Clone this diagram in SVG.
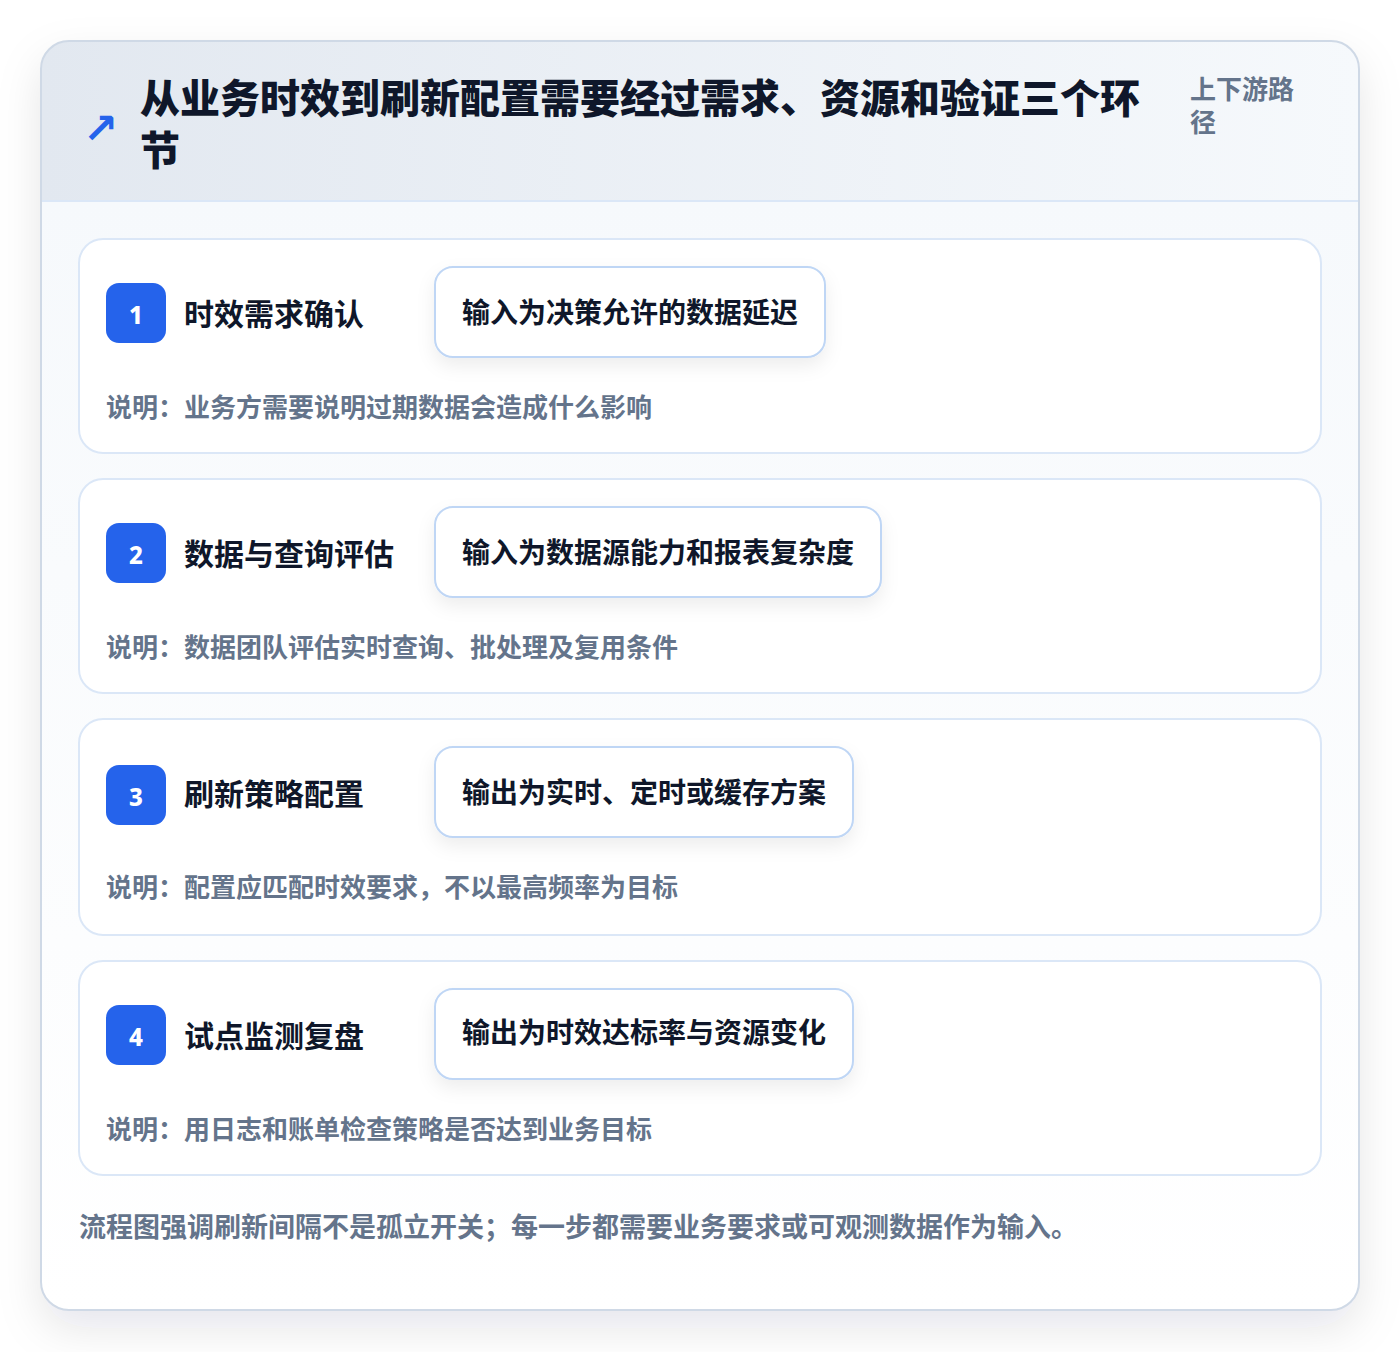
<svg xmlns="http://www.w3.org/2000/svg" width="1400" height="1352" viewBox="0 0 1400 1352">
<style>
.t{font-family:"Noto Sans CJK SC","Noto Sans",sans-serif;}
.title{font-size:40px;font-weight:900;fill:#0f172a;}
.tag{font-size:26px;font-weight:700;fill:#64748b;}
.card{fill:#ffffff;stroke:#dbe7f7;stroke-width:2;}
.badge{fill:#2563eb;}
.num{font-size:24px;font-weight:800;fill:#ffffff;text-anchor:middle;font-family:"Noto Sans","DejaVu Sans",sans-serif;}
.stitle{font-size:30px;font-weight:700;fill:#0f172a;}
.pill{fill:#ffffff;stroke:#bfd6f5;stroke-width:2;}
.ptext{font-size:28px;font-weight:700;fill:#0f172a;}
.desc{font-size:26px;font-weight:700;fill:#64748b;}
.foot{font-size:27px;font-weight:700;fill:#64748b;}
</style>
<defs>
<linearGradient id="hdr" x1="0" y1="0" x2="1" y2="0">
<stop offset="0" stop-color="#e2e8f0"/>
<stop offset="1" stop-color="#f6f9fc"/>
</linearGradient>
<linearGradient id="body" x1="0" y1="0" x2="0" y2="1">
<stop offset="0" stop-color="#f6f9fc"/>
<stop offset="1" stop-color="#ffffff"/>
</linearGradient>
<clipPath id="outerClip"><rect x="41" y="41" width="1318" height="1269" rx="28"/></clipPath>
<filter id="shadowOuter" x="-10%" y="-10%" width="120%" height="120%">
<feDropShadow dx="0" dy="18" stdDeviation="22" flood-color="#0f172a" flood-opacity="0.10"/>
</filter>
<filter id="shadowPill" x="-20%" y="-40%" width="140%" height="200%">
<feDropShadow dx="0" dy="8" stdDeviation="9" flood-color="#0f172a" flood-opacity="0.07"/>
</filter>
</defs>
<rect width="1400" height="1352" fill="#ffffff"/>
<g id="panel">
<rect x="41" y="41" width="1318" height="1269" rx="28" fill="#ffffff" filter="url(#shadowOuter)"/>
<g clip-path="url(#outerClip)">
<rect x="41" y="201" width="1318" height="1109" fill="url(#body)"/>
<rect x="41" y="41" width="1318" height="160" fill="url(#hdr)"/>
<line x1="41" y1="201" x2="1359" y2="201" stroke="#dbe7f7" stroke-width="2"/>
</g>
<rect x="41" y="41" width="1318" height="1269" rx="28" fill="none" stroke="#cfd9e6" stroke-width="2"/>
</g>
<g id="header">
<text x="83" y="143" font-family="DejaVu Sans,sans-serif" font-weight="700" font-size="42" fill="#2563eb">↗</text>
<text class="t title" x="140" y="113">从业务时效到刷新配置需要经过需求、资源和验证三个环</text>
<text class="t title" x="140" y="165">节</text>
<text class="t tag" x="1190" y="99">上下游路</text>
<text class="t tag" x="1190" y="132">径</text>
</g>
<g id="connectors"></g>
<g id="step1">
<rect class="card" x="79" y="239" width="1242" height="214" rx="24"/>
<rect class="badge" x="106" y="283" width="60" height="60" rx="13"/>
<text class="num" x="136" y="324">1</text>
<text class="t stitle" x="184" y="325">时效需求确认</text>
<rect class="pill" x="435" y="267" width="390" height="90" rx="18" filter="url(#shadowPill)"/>
<text class="t ptext" x="462" y="323">输入为决策允许的数据延迟</text>
<text class="t desc" x="106" y="417">说明：业务方需要说明过期数据会造成什么影响</text>
</g>
<g id="step2">
<rect class="card" x="79" y="479" width="1242" height="214" rx="24"/>
<rect class="badge" x="106" y="523" width="60" height="60" rx="13"/>
<text class="num" x="136" y="564">2</text>
<text class="t stitle" x="184" y="565">数据与查询评估</text>
<rect class="pill" x="435" y="507" width="446" height="90" rx="18" filter="url(#shadowPill)"/>
<text class="t ptext" x="462" y="563">输入为数据源能力和报表复杂度</text>
<text class="t desc" x="106" y="657">说明：数据团队评估实时查询、批处理及复用条件</text>
</g>
<g id="step3">
<rect class="card" x="79" y="719" width="1242" height="216" rx="24"/>
<rect class="badge" x="106" y="765" width="60" height="60" rx="13"/>
<text class="num" x="136" y="806">3</text>
<text class="t stitle" x="184" y="805">刷新策略配置</text>
<rect class="pill" x="435" y="747" width="418" height="90" rx="18" filter="url(#shadowPill)"/>
<text class="t ptext" x="462" y="803">输出为实时、定时或缓存方案</text>
<text class="t desc" x="106" y="897">说明：配置应匹配时效要求，不以最高频率为目标</text>
</g>
<g id="step4">
<rect class="card" x="79" y="961" width="1242" height="214" rx="24"/>
<rect class="badge" x="106" y="1005" width="60" height="60" rx="13"/>
<text class="num" x="136" y="1046">4</text>
<text class="t stitle" x="184" y="1047">试点监测复盘</text>
<rect class="pill" x="435" y="989" width="418" height="90" rx="18" filter="url(#shadowPill)"/>
<text class="t ptext" x="462" y="1043">输出为时效达标率与资源变化</text>
<text class="t desc" x="106" y="1139">说明：用日志和账单检查策略是否达到业务目标</text>
</g>
<g id="footer">
<text class="t foot" x="79" y="1237">流程图强调刷新间隔不是孤立开关；每一步都需要业务要求或可观测数据作为输入。</text>
</g>
</svg>
